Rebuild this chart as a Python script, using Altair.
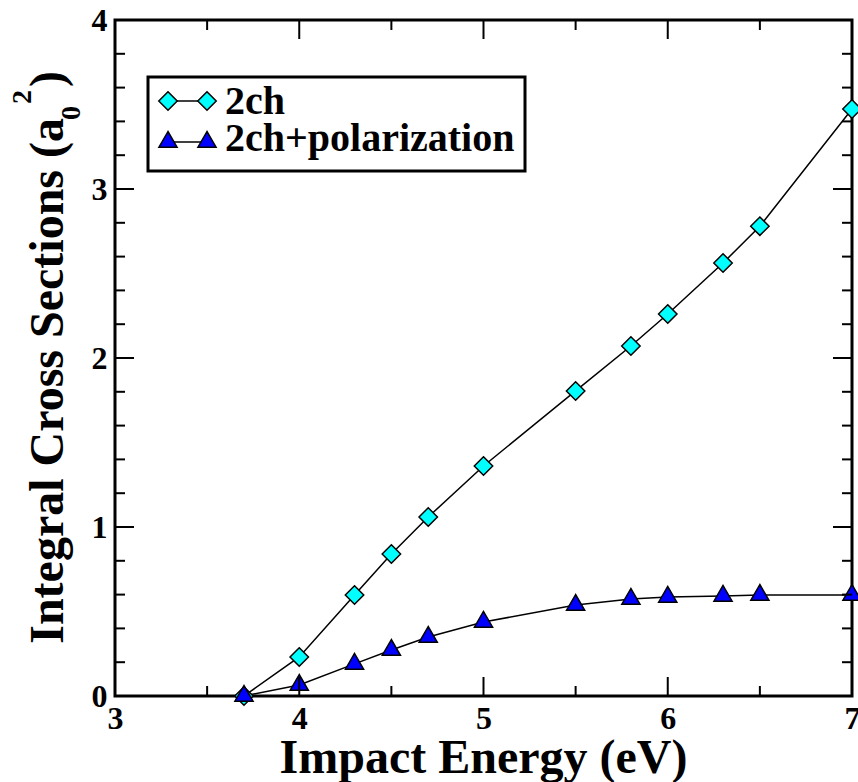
import altair as alt
import pandas as pd

# ---------------- data ----------------
energy = [3.7, 4.0, 4.3, 4.5, 4.7, 5.0, 5.5, 5.8, 6.0, 6.3, 6.5, 7.0]
ics_2ch = [0.0, 0.231, 0.598, 0.840, 1.059, 1.361, 1.805, 2.071, 2.260, 2.562, 2.780, 3.473]
ics_2ch_pol = [0.0, 0.065, 0.190, 0.272, 0.349, 0.438, 0.538, 0.574, 0.586, 0.592, 0.597, 0.597]
series_names = ["2ch", "2ch+polarization"]

x_major = [3, 4, 5, 6, 7]
x_minor = [3.5, 4.5, 5.5, 6.5]
y_major = [0, 1, 2, 3, 4]
y_minor = [0.2, 0.4, 0.6, 0.8, 1.2, 1.4, 1.6, 1.8, 2.2, 2.4, 2.6, 2.8, 3.2, 3.4, 3.6, 3.8]

x_title = "Impact Energy (eV)"
y_title_main = "Integral Cross Sections (a"
y_title_sub = "0"
y_title_sup = "2"
y_title_end = ")"

# ---------------- styling ----------------
W, H = 737, 676
FONT = "Liberation Serif"
CYAN = "#00FFFF"
BLUE = "#0000FF"
TRI = "M0,-1.155L-1,0.577L1,0.577Z"   # centroid-centred triangle
MAJ, MIN = 19, 10
LBL = 32

df = pd.DataFrame({
    "energy": energy * 2,
    "ics": ics_2ch + ics_2ch_pol,
    "series": [series_names[0]] * len(energy) + [series_names[1]] * len(energy),
})

xs = alt.Scale(domain=[3, 7], nice=False, zero=False)
ys = alt.Scale(domain=[0, 4], nice=False, zero=False)
x_axis = alt.Axis(values=x_major, title=None, ticks=False, domain=False, grid=False,
                  labelFont=FONT, labelFontWeight="bold", labelFontSize=LBL, labelColor="black",
                  labelPadding=7, labelFlush=False, labelOverlap=False, format="d")
y_axis = alt.Axis(values=y_major, title=None, ticks=False, domain=False, grid=False,
                  labelFont=FONT, labelFontWeight="bold", labelFontSize=LBL, labelColor="black",
                  labelPadding=8, labelFlush=False, labelOverlap=False, format="d")

X = alt.X("energy:Q", scale=xs, axis=x_axis)
Y = alt.Y("ics:Q", scale=ys, axis=y_axis)

lines = alt.Chart(df).mark_line(color="black", strokeWidth=1.5).encode(x=X, y=Y, detail="series:N")

pts_2ch = alt.Chart(df).transform_filter(alt.datum.series == series_names[0]).mark_point(
    shape="diamond", filled=True, fill=CYAN, stroke="black", strokeWidth=1.5, size=340, opacity=1
).encode(x=X, y=Y)
pts_pol = alt.Chart(df).transform_filter(alt.datum.series == series_names[1]).mark_point(
    shape=TRI, filled=True, fill=BLUE, stroke="black", strokeWidth=1.5, size=330, opacity=1
).encode(x=X, y=Y)

# ---------------- inward ticks on all four sides ----------------
def xticks(vals, L):
    d = pd.DataFrame({"energy": vals})
    b = alt.Chart(d).mark_rule(color="black", strokeWidth=2).encode(
        x=X, y=alt.value(H), y2=alt.value(H - L))
    t = alt.Chart(d).mark_rule(color="black", strokeWidth=2).encode(
        x=X, y=alt.value(0), y2=alt.value(L))
    return [b, t]

def yticks(vals, L):
    d = pd.DataFrame({"ics": vals})
    l = alt.Chart(d).mark_rule(color="black", strokeWidth=2).encode(
        y=Y, x=alt.value(0), x2=alt.value(L))
    r = alt.Chart(d).mark_rule(color="black", strokeWidth=2).encode(
        y=Y, x=alt.value(W), x2=alt.value(W - L))
    return [l, r]

ticks = xticks(x_major, MAJ) + xticks(x_minor, MIN) + yticks(y_major, MAJ) + yticks(y_minor, MIN)

# ---------------- titles ----------------
one = pd.DataFrame({"k": [0]})

def txt(s, x, y, size, align="center", baseline="alphabetic", angle=0):
    return alt.Chart(one).mark_text(
        text=s, font=FONT, fontWeight="bold", fontSize=size, color="black",
        align=align, baseline=baseline, angle=angle
    ).encode(x=alt.value(x), y=alt.value(y))

titles = [
    txt(x_title, W / 2, 753, 48),
    txt(y_title_main, -52, 98, 48, align="right", angle=270),
    txt(y_title_sub, -35, 100, 28, align="left", angle=270),
    txt(y_title_sup, -84, 84, 28, align="left", angle=270),
    txt(y_title_end, -52, 67, 48, align="left", angle=270),
]

# ---------------- legend ----------------
leg_box = alt.Chart(one).mark_rect(fill="white", stroke="black", strokeWidth=3).encode(
    x=alt.value(33), x2=alt.value(410), y=alt.value(57), y2=alt.value(151))

def leg_row(name, shape, fill, size, y_sym, y_txt):
    ln = alt.Chart(one).mark_rule(color="black", strokeWidth=1.5).encode(
        x=alt.value(53), x2=alt.value(92), y=alt.value(y_sym))
    s1 = alt.Chart(one).mark_point(shape=shape, filled=True, fill=fill, stroke="black",
                                   strokeWidth=1.5, size=size, opacity=1).encode(
        x=alt.value(53), y=alt.value(y_sym))
    s2 = alt.Chart(one).mark_point(shape=shape, filled=True, fill=fill, stroke="black",
                                   strokeWidth=1.5, size=size, opacity=1).encode(
        x=alt.value(92), y=alt.value(y_sym))
    t = txt(name, 110, y_txt, 40, align="left")
    return [ln, s1, s2, t]

legend = [leg_box] + leg_row(series_names[0], "diamond", CYAN, 340, 81, 94) \
                   + leg_row(series_names[1], TRI, BLUE, 330, 122, 131)

chart = alt.layer(lines, pts_2ch, pts_pol, *ticks, *titles, *legend).properties(
    width=W, height=H,
    autosize=alt.AutoSizeParams(type="none"),
    padding={"left": 115, "top": 20, "right": 6, "bottom": 86},
    background="white",
).configure_view(stroke="black", strokeWidth=3).configure_axis(
    labelFont=FONT, labelFontWeight="bold", labelFontSize=LBL, labelColor="black"
)

chart.save("out.html", embed_options={"renderer": "svg", "actions": False})
